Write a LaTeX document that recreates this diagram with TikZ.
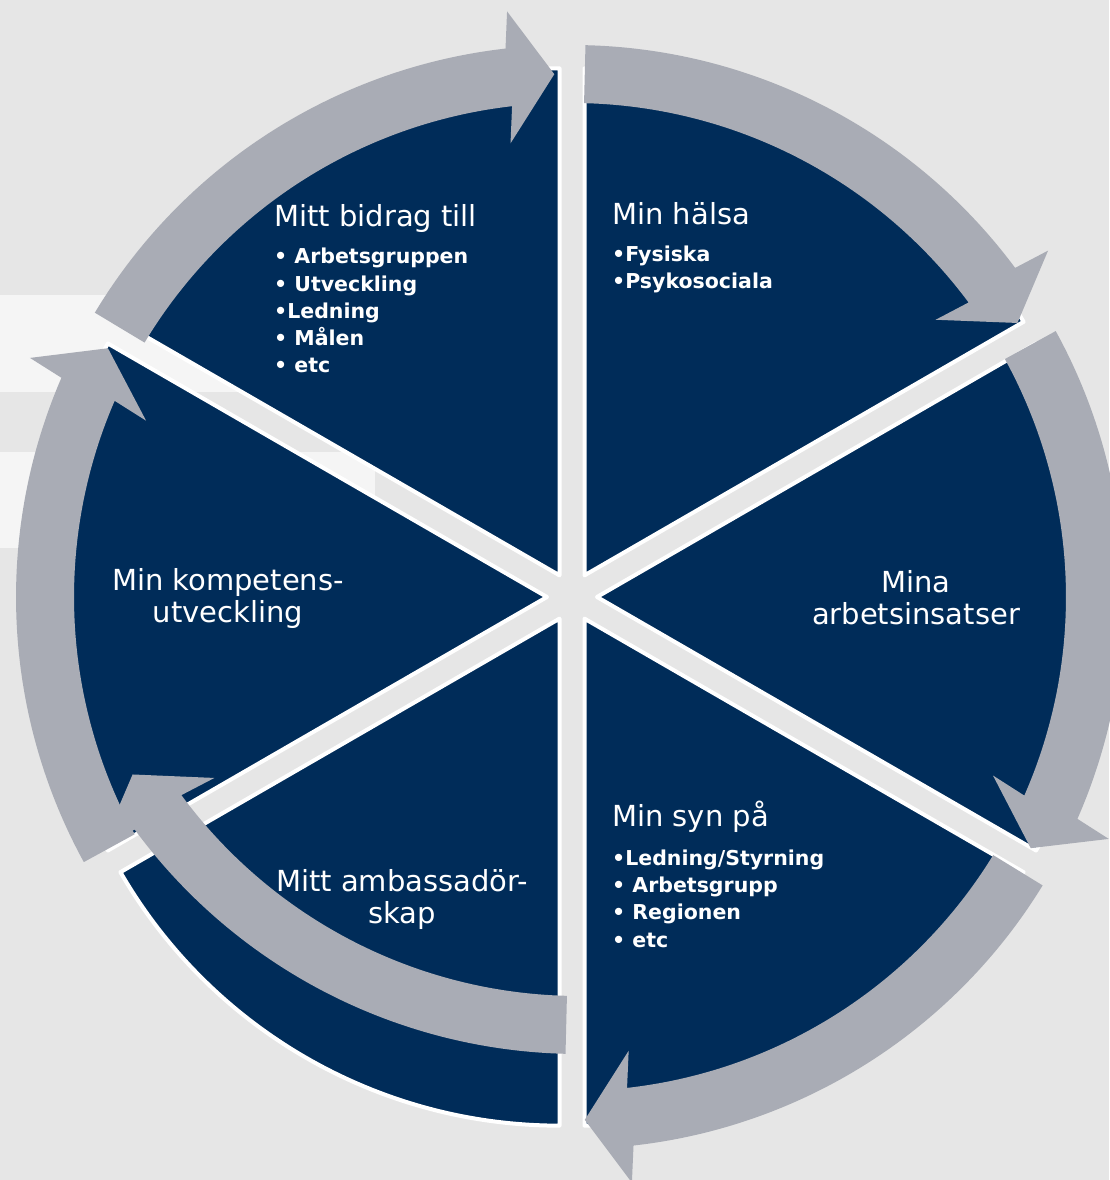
\documentclass[tikz,border=0pt]{standalone}
\usepackage{fontspec}
\setmainfont{DejaVu Sans}
\usetikzlibrary{calc}
\definecolor{navy}{HTML}{002C59}
\definecolor{pilgra}{HTML}{A9ACB5}
\definecolor{bakgrund}{HTML}{E6E6E6}
\definecolor{rand}{HTML}{F5F5F5}

\begin{document}
\begin{tikzpicture}
[x=1pt, y=1pt,
 sector/.style = {fill=navy, draw=white, line width=4pt, line join=round},
 pil/.style = {fill=pilgra},
 rubrik/.style = {text=white, inner sep=0pt, font=\fontsize{29}{32}\selectfont},
 punkt/.style = {text=white, inner sep=0pt, align=left, font=\fontsize{20.5}{27.3}\selectfont\bfseries}]

% background
\fill[bakgrund] (-572,-583) rectangle (537,597);
\useasboundingbox (-572,-583) rectangle (537,597);
\fill[rand] (-572,205) rectangle (-197,302);
\fill[rand] (-572,49) rectangle (-197,145);

% six sectors
\foreach \a in {90,30,-30,-90,-150,150}
  \draw[sector] (\a-30:25) -- ++(\a:507) arc[start angle=\a, end angle=\a-60, radius=507] -- cycle;

% arrows round the circle
\foreach \s/\t/\dx/\dy in {149/91.5/-4/0, 88.6/31.6/0/0, 28.8/-28.7/0/0, -31.5/-88.6/0/0, 208.7/151.6/-4/0, -91.4/-148.6/7/95}
  \fill[pil] ($(\dx,\dy)+(\s:552)$) arc[start angle=\s, end angle=\t+5, radius=552]
    -- ($(\dx,\dy)+(\t+5:523)+(\t:66)$) -- ($(\dx,\dy)+(\t:523)$)
    -- ($(\dx,\dy)+(\t+5:523)+(\t+180:66)$) -- ($(\dx,\dy)+(\t+5:494)$)
    arc[start angle=\t+5, end angle=\s, radius=494] -- cycle;

% texts (multi-line nodes sit on their last line)
\node[rubrik, anchor=base west] (bidrag) at (-298,370) {Mitt bidrag till};
\node[punkt, anchor=base west] (bidraglista) at (-298,224) {• Arbetsgruppen\\• Utveckling\\•Ledning\\• Målen\\• etc};
\node[rubrik, anchor=base west] (halsa) at (40,372) {Min hälsa};
\node[punkt, anchor=base west] (halsalista) at (40,308) {•Fysiska\\•Psykosociala};
\node[rubrik, anchor=base, align=center] (insats) at (344,-28) {Mina\\arbetsinsatser};
\node[rubrik, anchor=base west] (syn) at (40,-229) {Min syn på};
\node[punkt, anchor=base west] (synlista) at (40,-350) {•Ledning/Styrning\\• Arbetsgrupp\\• Regionen\\• etc};
\node[rubrik, anchor=base, align=center] (ambassad) at (-170,-326) {Mitt ambassadör-\\skap};
\node[rubrik, anchor=base, align=center] (kompetens) at (-344,-26) {Min kompetens-\\utveckling};
\end{tikzpicture}
\end{document}
